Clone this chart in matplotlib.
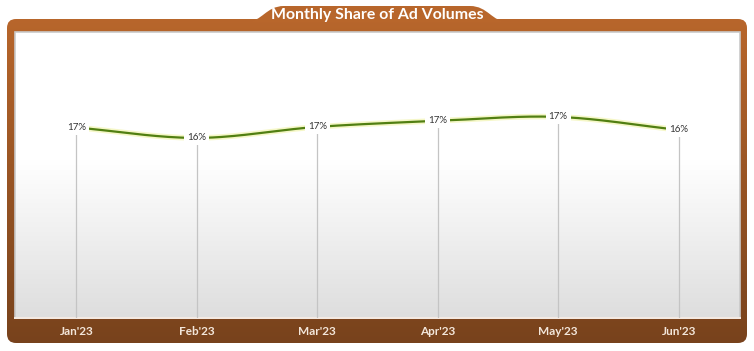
import numpy as np
import matplotlib
matplotlib.use("Agg")
import matplotlib.pyplot as plt
from matplotlib.patches import FancyBboxPatch, PathPatch
from matplotlib.path import Path

# ---- data ----
months = ["Jan'23", "Feb'23", "Mar'23", "Apr'23", "May'23", "Jun'23"]
share = [16.55, 16.03, 16.58, 16.88, 17.08, 16.43]
title = "Monthly Share of Ad Volumes"

plt.rcParams['font.family'] = ['Lato', 'DejaVu Sans']

W, H = 754, 351
fig = plt.figure(figsize=(W / 100, H / 100), dpi=100)

# background axes in pixel coordinates
bg = fig.add_axes([0, 0, 1, 1])
bg.set_xlim(0, W)
bg.set_ylim(H, 0)
bg.axis('off')

# frame gradient (orange-brown top -> dark brown bottom)
top_c = np.array([0.72, 0.40, 0.17])
bot_c = np.array([0.47, 0.26, 0.11])
t = np.linspace(0, 1, 256)[:, None]
grad = (top_c[None, :] * (1 - t) + bot_c[None, :] * t)[:, None, :]
frame = FancyBboxPatch((7, 19), 740, 324, boxstyle="round,pad=0,rounding_size=9",
                       facecolor='none', edgecolor='none')
bg.add_patch(frame)
im = bg.imshow(grad, extent=(7, 747, 343, 19), aspect='auto', zorder=1)
im.set_clip_path(frame)

# title tab
verts = [(246, 22), (262, 22), (266, 6), (284, 6), (470, 6), (488, 6), (492, 22), (508, 22), (246, 22)]
codes = [Path.MOVETO, Path.CURVE4, Path.CURVE4, Path.CURVE4, Path.LINETO,
         Path.CURVE4, Path.CURVE4, Path.CURVE4, Path.CLOSEPOLY]
bg.add_patch(PathPatch(Path(verts, codes), facecolor=top_c, edgecolor='none', zorder=2))
bg.text(377, 15, title, color='white', fontsize=11.4, fontweight='bold',
        ha='center', va='center', zorder=3)

# inner panel gradient (white -> light gray)
t2 = np.linspace(0, 1, 256)
shade = np.where(t2 < 0.45, 1.0, 1.0 - (t2 - 0.45) / 0.55 * 0.13)
panel = np.repeat(shade[:, None], 3, axis=1)[:, None, :]
bg.imshow(panel, extent=(15, 740, 318, 32), aspect='auto', zorder=2)
bg.add_patch(plt.Rectangle((15, 32), 725, 286, facecolor='none',
                           edgecolor='#c9c9c9', lw=1.2, zorder=3))
bg.add_patch(plt.Rectangle((14, 317), 727, 2, facecolor='#f3e9e2',
                           edgecolor='none', zorder=3))

# plot axes
x0, x1, y0, y1 = 15, 740, 32, 318
ax = fig.add_axes([x0 / W, 1 - y1 / H, (x1 - x0) / W, (y1 - y0) / H])
ax.patch.set_alpha(0)
ylo, yhi = 7.025, 21.325
ax.set_xlim(-0.51, 5.51)
ax.set_ylim(ylo, yhi)
for s in ax.spines.values():
    s.set_visible(False)
ax.set_yticks([])
xs = np.arange(len(months))
ax.set_xticks(xs)
ax.set_xticklabels(months, color='#f3e6da', fontsize=8.5, fontweight='bold')
ax.tick_params(axis='x', length=0, pad=6)

# drop lines
ax.vlines(xs, ylo, share, color='#c4c4c4', lw=0.9, zorder=2)

# smooth curve (Catmull-Rom through the data points)
def catmull(xp, yp, n=30):
    xp = np.asarray(xp, float); yp = np.asarray(yp, float)
    px = np.concatenate([[2 * xp[0] - xp[1]], xp, [2 * xp[-1] - xp[-2]]])
    py = np.concatenate([[2 * yp[0] - yp[1]], yp, [2 * yp[-1] - yp[-2]]])
    ox, oy = [], []
    for i in range(1, len(px) - 2):
        tt = np.linspace(0, 1, n, endpoint=False)
        for arr, out in ((px, ox), (py, oy)):
            p0, p1, p2, p3 = arr[i - 1], arr[i], arr[i + 1], arr[i + 2]
            out.extend(0.5 * ((2 * p1) + (-p0 + p2) * tt +
                              (2 * p0 - 5 * p1 + 4 * p2 - p3) * tt ** 2 +
                              (-p0 + 3 * p1 - 3 * p2 + p3) * tt ** 3))
    ox.append(xp[-1]); oy.append(yp[-1])
    return np.array(ox), np.array(oy)

cx, cy = catmull(xs, share)
ax.plot(cx, cy, color='#f1f4b0', lw=4.0, alpha=0.7, solid_capstyle='round', zorder=3)
ax.plot(cx, cy, color='#517f12', lw=1.6, solid_capstyle='round', zorder=4)

for x, v in zip(xs, share):
    ax.text(x, v, f"{v:.0f}%", ha='center', va='center', fontsize=7,
            color='#333333', zorder=5,
            bbox=dict(boxstyle='square,pad=0.3', facecolor='white', edgecolor='none'))

fig.savefig('out.png', dpi=100)
